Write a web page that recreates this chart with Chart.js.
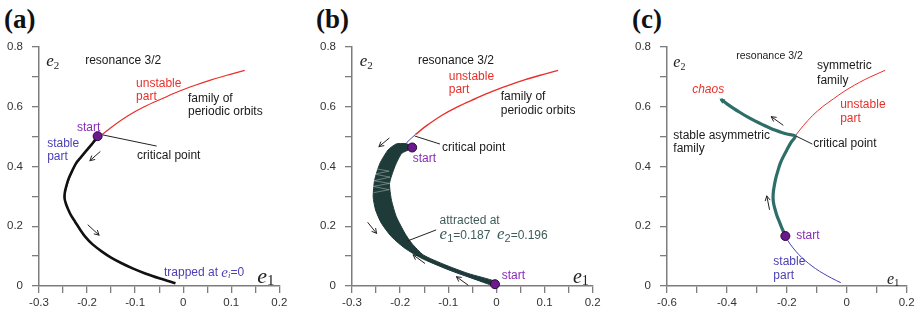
<!DOCTYPE html>
<html>
<head>
<meta charset="utf-8">
<script src="https://cdn.jsdelivr.net/npm/chart.js@4"></script>
<style>
  body { margin: 0; background: #fff; width: 917px; height: 315px; position: relative; overflow: hidden; }
  canvas { position: absolute; top: 0; }
  .tag { position: absolute; font: bold 27px "Liberation Serif"; line-height: 1; color: #111; }
</style>
</head>
<body>
<div class="tag" style="left:4px;top:6px">(a)</div>
<div class="tag" style="left:316px;top:6px">(b)</div>
<div class="tag" style="left:632px;top:6px">(c)</div>
<canvas id="pa" width="300" height="315" style="left:0"></canvas>
<canvas id="pb" width="300" height="315" style="left:313px"></canvas>
<canvas id="pc" width="290" height="315" style="left:628px"></canvas>
<script>
// family of periodic orbits, resonance 3/2 (same in every panel)
const unstableE1 = [-0.168, -0.145, -0.114, -0.08, -0.044, -0.01, 0.025, 0.06, 0.094, 0.128];
const unstableE2 = [0.507, 0.536, 0.570, 0.600, 0.626, 0.650, 0.671, 0.690, 0.706, 0.721];
const stableE1 = [-0.168, -0.186, -0.200, -0.213, -0.222, -0.230, -0.237, -0.242, -0.245, -0.246, -0.244, -0.239,
                  -0.233, -0.225, -0.215, -0.204, -0.189, -0.169, -0.150, -0.128, -0.104, -0.079, -0.050, -0.020];
const stableE2 = [0.507, 0.480, 0.455, 0.430, 0.410, 0.385, 0.360, 0.335, 0.315, 0.295, 0.275, 0.255,
                  0.235, 0.215, 0.190, 0.165, 0.140, 0.115, 0.095, 0.076, 0.058, 0.042, 0.026, 0.011];

// (a) evolution trapped at e1=0
const trajAE1 = [-0.178, -0.188, -0.200, -0.213, -0.223, -0.231, -0.238, -0.243, -0.246, -0.247, -0.244, -0.239,
                 -0.233, -0.225, -0.215, -0.204, -0.189, -0.169, -0.150, -0.128, -0.104, -0.079, -0.048, -0.016];
const trajAE2 = [0.501, 0.478, 0.455, 0.430, 0.410, 0.385, 0.360, 0.335, 0.315, 0.295, 0.275, 0.255,
                 0.235, 0.215, 0.190, 0.165, 0.140, 0.115, 0.095, 0.076, 0.058, 0.042, 0.025, 0.009];
const startAE1 = [-0.178];
const startAE2 = [0.501];

// (b) oscillating evolution (outline of the band), attracted at the family
const bandE1 = [-0.175, -0.19, -0.208, -0.225, -0.242, -0.253, -0.256, -0.251, -0.239, -0.218, -0.19, -0.156, -0.107, -0.059, -0.01, -0.002,
                -0.003, -0.059, -0.107, -0.152, -0.176, -0.19, -0.208, -0.218, -0.222, -0.211, -0.197, -0.178];
const bandE2 = [0.470, 0.476, 0.475, 0.455, 0.410, 0.354, 0.298, 0.254, 0.210, 0.165, 0.126, 0.093, 0.059, 0.031, 0.003, 0.006,
                0.016, 0.042, 0.071, 0.104, 0.143, 0.176, 0.232, 0.287, 0.343, 0.399, 0.443, 0.458];
const gapE1 = [-0.251, -0.223, -0.253, -0.221, -0.255, -0.222, -0.256, -0.223, -0.255];
const gapE2 = [0.392, 0.384, 0.374, 0.364, 0.352, 0.343, 0.333, 0.322, 0.312];
const startBE1 = [-0.175, -0.003];
const startBE2 = [0.463, 0.006];

// (c) evolution along the stable asymmetric family towards chaos
const trajCE1 = [-0.205, -0.215, -0.225, -0.233, -0.239, -0.244, -0.246, -0.245, -0.242, -0.237, -0.230, -0.222, -0.213,
                 -0.200, -0.186, -0.172, -0.200, -0.222, -0.250, -0.278, -0.305, -0.333, -0.356, -0.378, -0.400, -0.420];
const trajCE2 = [0.167, 0.190, 0.215, 0.235, 0.255, 0.275, 0.295, 0.315, 0.335, 0.360, 0.385, 0.410, 0.430,
                 0.455, 0.480, 0.501, 0.508, 0.515, 0.525, 0.538, 0.551, 0.566, 0.580, 0.594, 0.609, 0.624];
const startCE1 = [-0.205];
const startCE2 = [0.167];

const RED = '#e8302a', BLUE = '#4a3fb5', PURPLE = '#8a2cb8', DOT = '#6b1a8e';
const TEAL = '#2e6e69', BAND = '#1e3b39', TEALTXT = '#3e5c5a', AXIS = '#7d7d7d';
const SANS = '"Liberation Sans"', SERIF = '"Liberation Serif"';

const pts = (xs, ys) => xs.map((x, i) => ({x: x, y: ys[i]}));
const line = (xs, ys, color, w, extra) => Object.assign({
  data: pts(xs, ys), showLine: true, borderColor: color, borderWidth: w, pointRadius: 0,
  fill: false, tension: 0.3, borderJoinStyle: 'round'
}, extra || {});
const dots = (xs, ys) => ({
  data: pts(xs, ys), showLine: false, pointRadius: 4.5, pointBackgroundColor: DOT,
  pointBorderColor: '#2a0838', pointBorderWidth: 1, clip: false
});

function notesPlugin(n) {
  return {
    id: 'notes',
    afterDatasetsDraw(chart) {
      const ctx = chart.ctx, sx = chart.scales.x, sy = chart.scales.y;
      const px = v => sx.getPixelForValue(v), py = v => sy.getPixelForValue(v);
      ctx.save();
      ctx.lineCap = 'round';
      (n.lines || []).forEach(l => {
        ctx.strokeStyle = '#222'; ctx.lineWidth = 1;
        ctx.beginPath(); ctx.moveTo(px(l[0]), py(l[1])); ctx.lineTo(px(l[2]), py(l[3])); ctx.stroke();
      });
      (n.arrows || []).forEach(a => {
        const x1 = px(a[0]), y1 = py(a[1]), x2 = px(a[2]), y2 = py(a[3]);
        const ang = Math.atan2(y2 - y1, x2 - x1), h = 5;
        ctx.strokeStyle = '#222'; ctx.lineWidth = 1;
        ctx.beginPath(); ctx.moveTo(x1, y1); ctx.lineTo(x2, y2);
        ctx.moveTo(x2 - h * Math.cos(ang - 0.5), y2 - h * Math.sin(ang - 0.5));
        ctx.lineTo(x2, y2);
        ctx.lineTo(x2 - h * Math.cos(ang + 0.5), y2 - h * Math.sin(ang + 0.5));
        ctx.stroke();
      });
      (n.heads || []).forEach(a => {
        const x1 = px(a[0]), y1 = py(a[1]), x2 = px(a[2]), y2 = py(a[3]);
        const ang = Math.atan2(y2 - y1, x2 - x1), h = 6;
        ctx.fillStyle = TEAL;
        ctx.beginPath(); ctx.moveTo(x2, y2);
        ctx.lineTo(x2 - h * Math.cos(ang - 0.45), y2 - h * Math.sin(ang - 0.45));
        ctx.lineTo(x2 - h * Math.cos(ang + 0.45), y2 - h * Math.sin(ang + 0.45));
        ctx.closePath(); ctx.fill();
      });
      (n.texts || []).forEach(t => {
        let x = px(t.x);
        const y = py(t.y);
        ctx.textBaseline = t.b || 'middle';
        (t.runs || [{s: t.s}]).forEach(r => {
          ctx.font = r.f || t.f || '12px ' + SANS;
          ctx.fillStyle = r.c || t.c || '#1a1a1a';
          ctx.fillText(r.s, x, y + (r.dy || 0));
          x += ctx.measureText(r.s).width;
        });
      });
      ctx.restore();
    }
  };
}

function makeChart(id, datasets, xr, notes, padRight) {
  return new Chart(document.getElementById(id), {
    type: 'scatter',
    data: {datasets: datasets},
    options: {
      responsive: false, animation: false, events: [], devicePixelRatio: 1,
      layout: {padding: {left: 0, top: 46.7, right: padRight, bottom: 0}},
      plugins: {legend: {display: false}, tooltip: {enabled: false}},
      scales: {
        x: {
          type: 'linear', min: xr[0], max: xr[1],
          ticks: {
            stepSize: xr[2], autoSkip: false, maxRotation: 0, padding: 3, color: '#333',
            font: {family: SANS, size: 11.5},
            callback: v => Math.round(v * 1000) % Math.round(xr[3] * 1000) === 0 ? String(Math.round(v * 10) / 10) : ''
          },
          grid: {drawOnChartArea: false, tickLength: 7, color: AXIS, lineWidth: 1.3},
          border: {color: AXIS, width: 1.5},
          afterFit: s => { s.height = 29; }
        },
        y: {
          type: 'linear', min: 0, max: 0.8,
          ticks: {
            stepSize: 0.1, autoSkip: false, padding: 9, color: '#333',
            font: {family: SANS, size: 11.5},
            callback: v => Math.round(v * 10) % 2 === 0 ? String(Math.round(v * 10) / 10) : ''
          },
          grid: {drawOnChartArea: false, tickLength: 7, color: AXIS, lineWidth: 1.3},
          border: {color: AXIS, width: 1.5},
          afterFit: s => { s.width = 39; }
        }
      }
    },
    plugins: [notesPlugin(notes)]
  });
}

const e2Title = (x, y, size) => ({x: x, y: y, b: 'alphabetic', runs: [
  {s: 'e', f: 'italic ' + size + 'px ' + SERIF, c: '#222'}, {s: '2', f: Math.round(size * 0.65) + 'px ' + SERIF, c: '#222', dy: 3}]});
const e1Title = (x, y, size) => ({x: x, y: y, b: 'alphabetic', runs: [
  {s: 'e', f: 'italic ' + size + 'px ' + SERIF, c: '#222'}, {s: '1', f: Math.round(size * 0.7) + 'px ' + SERIF, c: '#222', dy: 2}]});

// panel (a)
makeChart('pa', [
  dots(startAE1, startAE2),
  line(trajAE1, trajAE2, '#111', 2.6),
  line(unstableE1, unstableE2, RED, 1.2),
  line(stableE1, stableE2, BLUE, 1.2)
], [-0.3, 0.2, 0.05, 0.1], {
  lines: [[-0.167, 0.505, -0.056, 0.468]],
  arrows: [[-0.173, 0.449, -0.194, 0.419], [-0.198, 0.204, -0.175, 0.170]],
  texts: [
    {x: -0.204, y: 0.752, s: 'resonance 3/2'},
    {x: -0.098, y: 0.676, s: 'unstable', c: RED},
    {x: -0.098, y: 0.632, s: 'part', c: RED},
    {x: 0.010, y: 0.627, s: 'family of'},
    {x: 0.010, y: 0.582, s: 'periodic orbits'},
    {x: -0.221, y: 0.528, s: 'start', c: PURPLE},
    {x: -0.283, y: 0.475, s: 'stable', c: BLUE},
    {x: -0.283, y: 0.431, s: 'part', c: BLUE},
    {x: -0.096, y: 0.434, s: 'critical point'},
    {x: -0.040, y: 0.043, c: BLUE, runs: [
      {s: 'trapped at '}, {s: 'e', f: 'italic 15px ' + SERIF}, {s: 'i', f: 'italic 9px ' + SERIF, dy: 3}, {s: '=0'}]},
    e2Title(-0.285, 0.735, 17),
    e1Title(0.154, 0.010, 22)
  ]
}, 20.7);

// panel (b)
makeChart('pb', [
  dots(startBE1, startBE2),
  line(gapE1, gapE2, 'rgba(200,215,212,0.55)', 0.8, {tension: 0}),
  line(bandE1, bandE2, BAND, 1, {fill: 'shape', backgroundColor: BAND, tension: 0.2}),
  line(unstableE1, unstableE2, RED, 1.4),
  line(stableE1, stableE2, BLUE, 1)
], [-0.3, 0.2, 0.05, 0.1], {
  lines: [[-0.169, 0.501, -0.118, 0.475], [-0.184, 0.151, -0.126, 0.187]],
  arrows: [[-0.223, 0.494, -0.244, 0.466], [-0.267, 0.212, -0.249, 0.176],
           [-0.149, 0.076, -0.173, 0.104], [-0.059, 0.003, -0.083, 0.031]],
  texts: [
    {x: -0.163, y: 0.752, s: 'resonance 3/2'},
    {x: -0.099, y: 0.699, s: 'unstable', c: RED},
    {x: -0.099, y: 0.655, s: 'part', c: RED},
    {x: 0.009, y: 0.632, s: 'family of'},
    {x: 0.009, y: 0.585, s: 'periodic orbits'},
    {x: -0.113, y: 0.461, s: 'critical point'},
    {x: -0.174, y: 0.424, s: 'start', c: PURPLE},
    {x: -0.118, y: 0.217, s: 'attracted at', c: TEALTXT},
    {x: -0.118, y: 0.157, b: 'alphabetic', c: TEALTXT, runs: [
      {s: 'e', f: 'italic 17px ' + SERIF}, {s: '1', f: '11px ' + SANS, dy: 3}, {s: '=0.187  '},
      {s: 'e', f: 'italic 17px ' + SERIF}, {s: '2', f: '11px ' + SANS, dy: 3}, {s: '=0.196'}]},
    {x: 0.011, y: 0.033, s: 'start', c: PURPLE},
    e2Title(-0.284, 0.735, 17),
    e1Title(0.159, 0.010, 20)
  ]
}, 20.3);

// panel (c)
makeChart('pc', [
  dots(startCE1, startCE2),
  line(trajCE1, trajCE2, TEAL, 3.2),
  line(unstableE1, unstableE2, RED, 1),
  line(stableE1, stableE2, BLUE, 1)
], [-0.6, 0.2, 0.1, 0.2], {
  lines: [[-0.169, 0.501, -0.116, 0.475]],
  arrows: [[-0.213, 0.538, -0.252, 0.566], [-0.258, 0.256, -0.267, 0.301]],
  heads: [[-0.400, 0.609, -0.425, 0.627]],
  texts: [
    {x: -0.369, y: 0.77, s: 'resonance 3/2', f: '10.5px ' + SANS},
    {x: -0.099, y: 0.735, s: 'symmetric'},
    {x: -0.099, y: 0.688, s: 'family'},
    {x: -0.516, y: 0.655, s: 'chaos', c: RED, f: 'italic 12px ' + SANS},
    {x: -0.022, y: 0.605, s: 'unstable', c: RED},
    {x: -0.022, y: 0.558, s: 'part', c: RED},
    {x: -0.579, y: 0.501, s: 'stable asymmetric'},
    {x: -0.579, y: 0.458, s: 'family'},
    {x: -0.112, y: 0.475, s: 'critical point'},
    {x: -0.169, y: 0.167, s: 'start', c: PURPLE},
    {x: -0.245, y: 0.080, s: 'stable', c: BLUE},
    {x: -0.245, y: 0.033, s: 'part', c: BLUE},
    e2Title(-0.579, 0.732, 16),
    e1Title(0.134, 0.007, 16)
  ]
}, 11.3);
</script>
</body>
</html>
